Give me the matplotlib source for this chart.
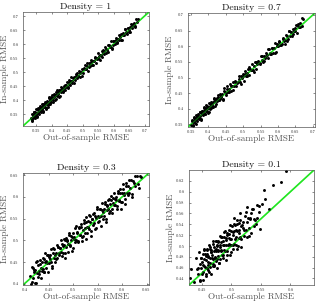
import numpy as np
import matplotlib
matplotlib.use("Agg")
import matplotlib.pyplot as plt
from matplotlib.ticker import FixedLocator, FixedFormatter

plt.rcParams['font.family'] = ['cmr10', 'DejaVu Serif']
plt.rcParams['mathtext.fontset'] = 'cm'
plt.rcParams['axes.formatter.use_mathtext'] = True

titles = ["Density = 1", "Density = 0.7", "Density = 0.3", "Density = 0.1"]
xlabel = "Out-of-sample RMSE"
ylabel = "In-sample RMSE"

# ---- Density = 1 ----
x1a = [0.332, 0.335, 0.337, 0.338, 0.340, 0.341, 0.343, 0.344, 0.346, 0.347, 0.348, 0.350, 0.351, 0.353, 0.354, 0.356, 0.357, 0.358, 0.360, 0.361,
       0.363, 0.364, 0.366, 0.367, 0.369, 0.370, 0.372, 0.373, 0.375, 0.377, 0.378, 0.380, 0.382, 0.383, 0.385, 0.387, 0.389, 0.390, 0.392, 0.394,
       0.396, 0.398, 0.400, 0.402, 0.404, 0.406, 0.408, 0.410, 0.412, 0.415, 0.417, 0.419, 0.422, 0.424, 0.426, 0.429, 0.431, 0.434, 0.436, 0.439,
       0.441, 0.444, 0.446, 0.449, 0.452, 0.454, 0.457, 0.460, 0.463, 0.466, 0.468, 0.471, 0.474, 0.477, 0.480, 0.483, 0.486, 0.489, 0.492, 0.495,
       0.498, 0.501, 0.504, 0.507, 0.510, 0.513, 0.516, 0.519, 0.522, 0.525, 0.528, 0.531, 0.534, 0.537, 0.540, 0.543, 0.546, 0.549, 0.552, 0.555,
       0.558, 0.561, 0.564, 0.567, 0.570, 0.573, 0.576, 0.579, 0.582, 0.585, 0.588, 0.591, 0.594, 0.597, 0.600, 0.603, 0.606, 0.609, 0.612, 0.615,
       0.618, 0.621, 0.624, 0.627, 0.630, 0.633, 0.636, 0.639, 0.642, 0.645, 0.648, 0.651, 0.654, 0.657, 0.660, 0.663, 0.666, 0.669, 0.672, 0.676,
       0.680]
y1a = [0.336, 0.326, 0.350, 0.339, 0.335, 0.357, 0.350, 0.342, 0.334, 0.357, 0.351, 0.368, 0.344, 0.353, 0.363, 0.352, 0.371, 0.364, 0.350, 0.363,
       0.374, 0.358, 0.371, 0.384, 0.368, 0.378, 0.358, 0.385, 0.378, 0.374, 0.393, 0.372, 0.388, 0.384, 0.395, 0.376, 0.393, 0.409, 0.387, 0.401,
       0.403, 0.393, 0.419, 0.406, 0.393, 0.416, 0.409, 0.416, 0.404, 0.430, 0.414, 0.422, 0.434, 0.410, 0.434, 0.428, 0.448, 0.439, 0.430, 0.450,
       0.443, 0.434, 0.452, 0.463, 0.448, 0.463, 0.457, 0.453, 0.481, 0.469, 0.478, 0.459, 0.472, 0.484, 0.496, 0.478, 0.487, 0.502, 0.483, 0.499,
       0.509, 0.495, 0.509, 0.524, 0.509, 0.521, 0.502, 0.531, 0.525, 0.522, 0.543, 0.523, 0.540, 0.538, 0.550, 0.532, 0.550, 0.568, 0.547, 0.562,
       0.562, 0.552, 0.577, 0.568, 0.565, 0.589, 0.583, 0.577, 0.570, 0.595, 0.591, 0.609, 0.587, 0.597, 0.609, 0.599, 0.620, 0.615, 0.602, 0.617,
       0.615, 0.624, 0.636, 0.613, 0.638, 0.632, 0.653, 0.644, 0.636, 0.656, 0.650, 0.641, 0.660, 0.671, 0.656, 0.672, 0.666, 0.662, 0.690, 0.679,
       0.690]
x1b = [0.336, 0.339, 0.342, 0.345, 0.349, 0.352, 0.355, 0.359, 0.362, 0.365, 0.368, 0.371, 0.374, 0.376, 0.379, 0.381, 0.384, 0.386, 0.388, 0.391,
       0.393, 0.395, 0.397, 0.401, 0.403, 0.407, 0.409, 0.413, 0.416, 0.418, 0.421, 0.425, 0.428, 0.433, 0.437, 0.442, 0.447, 0.451, 0.456, 0.461,
       0.465, 0.472, 0.479, 0.485, 0.491, 0.497, 0.503, 0.509, 0.515, 0.521, 0.527, 0.533, 0.539, 0.545, 0.551, 0.557, 0.563, 0.569, 0.575, 0.581,
       0.587, 0.593, 0.599, 0.605, 0.611, 0.617, 0.623, 0.629, 0.635, 0.641, 0.647, 0.653, 0.659, 0.664, 0.670]
y1b = [0.330, 0.348, 0.357, 0.344, 0.354, 0.339, 0.366, 0.361, 0.379, 0.361, 0.376, 0.362, 0.387, 0.376, 0.385, 0.366, 0.394, 0.390, 0.381, 0.407,
       0.394, 0.384, 0.409, 0.408, 0.400, 0.421, 0.401, 0.416, 0.434, 0.416, 0.430, 0.413, 0.433, 0.444, 0.432, 0.455, 0.447, 0.442, 0.471, 0.467,
       0.459, 0.481, 0.494, 0.484, 0.496, 0.484, 0.514, 0.511, 0.532, 0.517, 0.535, 0.524, 0.552, 0.545, 0.557, 0.542, 0.573, 0.573, 0.568, 0.597,
       0.588, 0.582, 0.611, 0.612, 0.608, 0.631, 0.615, 0.632, 0.653, 0.639, 0.656, 0.641, 0.664, 0.675, 0.665]

# ---- Density = 0.7 ----
x2a = [0.352, 0.354, 0.356, 0.357, 0.359, 0.361, 0.362, 0.364, 0.366, 0.367, 0.369, 0.371, 0.372, 0.374, 0.376, 0.378, 0.379, 0.381, 0.383, 0.385,
       0.387, 0.389, 0.391, 0.393, 0.395, 0.397, 0.399, 0.401, 0.403, 0.405, 0.408, 0.410, 0.412, 0.415, 0.417, 0.420, 0.422, 0.425, 0.427, 0.430,
       0.432, 0.435, 0.438, 0.440, 0.443, 0.446, 0.449, 0.451, 0.454, 0.457, 0.460, 0.463, 0.466, 0.469, 0.472, 0.475, 0.478, 0.481, 0.484, 0.487,
       0.490, 0.493, 0.496, 0.499, 0.502, 0.505, 0.508, 0.511, 0.514, 0.517, 0.520, 0.523, 0.526, 0.529, 0.532, 0.535, 0.538, 0.541, 0.544, 0.547,
       0.550, 0.553, 0.556, 0.559, 0.562, 0.565, 0.568, 0.571, 0.574, 0.577, 0.580, 0.583, 0.586, 0.589, 0.592, 0.595, 0.598, 0.601, 0.604, 0.607,
       0.610, 0.613, 0.616, 0.619, 0.622, 0.625, 0.628, 0.631, 0.634, 0.637, 0.640, 0.643, 0.646, 0.649, 0.652, 0.655, 0.658, 0.661, 0.664, 0.668,
       0.668, 0.672]
y2a = [0.349, 0.364, 0.358, 0.346, 0.373, 0.367, 0.356, 0.381, 0.366, 0.375, 0.360, 0.383, 0.376, 0.372, 0.391, 0.365, 0.386, 0.382, 0.394, 0.380,
       0.405, 0.392, 0.383, 0.402, 0.394, 0.410, 0.404, 0.391, 0.419, 0.407, 0.404, 0.420, 0.405, 0.421, 0.436, 0.408, 0.430, 0.425, 0.439, 0.427,
       0.429, 0.447, 0.438, 0.448, 0.431, 0.465, 0.455, 0.444, 0.464, 0.453, 0.462, 0.479, 0.456, 0.474, 0.485, 0.474, 0.487, 0.473, 0.487, 0.505,
       0.485, 0.504, 0.497, 0.506, 0.489, 0.520, 0.506, 0.515, 0.526, 0.508, 0.528, 0.523, 0.543, 0.523, 0.538, 0.549, 0.527, 0.543, 0.554, 0.544,
       0.568, 0.556, 0.548, 0.568, 0.561, 0.578, 0.573, 0.561, 0.590, 0.579, 0.576, 0.593, 0.579, 0.595, 0.611, 0.583, 0.606, 0.601, 0.616, 0.604,
       0.607, 0.623, 0.618, 0.608, 0.636, 0.631, 0.622, 0.648, 0.634, 0.645, 0.631, 0.655, 0.650, 0.647, 0.667, 0.642, 0.665, 0.662, 0.675, 0.663,
       0.689, 0.686]
x2b = [0.353, 0.356, 0.358, 0.360, 0.363, 0.365, 0.368, 0.370, 0.373, 0.375, 0.377, 0.380, 0.382, 0.384, 0.386, 0.388, 0.390, 0.392, 0.394, 0.396,
       0.398, 0.400, 0.402, 0.404, 0.406, 0.409, 0.411, 0.414, 0.416, 0.419, 0.423, 0.426, 0.429, 0.433, 0.437, 0.441, 0.445, 0.450, 0.455, 0.459,
       0.464, 0.470, 0.476, 0.482, 0.488, 0.494, 0.500, 0.506, 0.512, 0.518, 0.524, 0.530, 0.536, 0.542, 0.548, 0.554, 0.560, 0.566, 0.572, 0.578,
       0.584, 0.590, 0.596, 0.602, 0.608, 0.614, 0.620, 0.626, 0.632, 0.638, 0.644, 0.650, 0.656, 0.662]
y2b = [0.361, 0.347, 0.371, 0.360, 0.369, 0.350, 0.378, 0.374, 0.366, 0.391, 0.378, 0.369, 0.394, 0.391, 0.383, 0.402, 0.382, 0.395, 0.412, 0.394,
       0.407, 0.388, 0.407, 0.415, 0.401, 0.422, 0.411, 0.405, 0.431, 0.425, 0.417, 0.435, 0.444, 0.432, 0.442, 0.428, 0.456, 0.452, 0.472, 0.455,
       0.472, 0.461, 0.489, 0.482, 0.494, 0.479, 0.510, 0.510, 0.505, 0.534, 0.525, 0.519, 0.548, 0.549, 0.545, 0.568, 0.552, 0.569, 0.590, 0.576,
       0.593, 0.578, 0.601, 0.613, 0.603, 0.627, 0.620, 0.617, 0.647, 0.644, 0.638, 0.659, 0.671, 0.661]

# ---- Density = 0.3 ----
x3a = [0.412, 0.414, 0.416, 0.417, 0.419, 0.421, 0.422, 0.424, 0.425, 0.427, 0.428, 0.430, 0.431, 0.433, 0.434, 0.436, 0.437, 0.439, 0.440, 0.442,
       0.443, 0.445, 0.446, 0.448, 0.449, 0.451, 0.452, 0.454, 0.455, 0.457, 0.458, 0.460, 0.461, 0.463, 0.464, 0.466, 0.467, 0.469, 0.470, 0.472,
       0.473, 0.475, 0.476, 0.478, 0.480, 0.481, 0.483, 0.485, 0.486, 0.488, 0.490, 0.491, 0.493, 0.495, 0.497, 0.498, 0.500, 0.502, 0.504, 0.506,
       0.508, 0.510, 0.512, 0.514, 0.516, 0.518, 0.520, 0.522, 0.524, 0.526, 0.528, 0.530, 0.532, 0.534, 0.536, 0.538, 0.540, 0.542, 0.544, 0.546,
       0.548, 0.550, 0.552, 0.554, 0.556, 0.558, 0.560, 0.562, 0.564, 0.566, 0.568, 0.570, 0.572, 0.574, 0.576, 0.578, 0.580, 0.582, 0.584, 0.586,
       0.588, 0.590, 0.592, 0.594, 0.596, 0.598, 0.600, 0.602, 0.604, 0.606, 0.608, 0.611, 0.614, 0.617, 0.620, 0.623, 0.626, 0.630, 0.634, 0.638]
y3a = [0.417, 0.400, 0.438, 0.413, 0.431, 0.402, 0.431, 0.451, 0.425, 0.416, 0.444, 0.423, 0.455, 0.436, 0.414, 0.450, 0.435, 0.458, 0.426, 0.450,
       0.471, 0.436, 0.448, 0.465, 0.427, 0.462, 0.458, 0.449, 0.480, 0.441, 0.471, 0.459, 0.481, 0.451, 0.471, 0.489, 0.459, 0.484, 0.467, 0.482,
       0.483, 0.472, 0.491, 0.470, 0.503, 0.488, 0.471, 0.505, 0.485, 0.501, 0.474, 0.516, 0.488, 0.501, 0.508, 0.476, 0.517, 0.504, 0.495, 0.534,
       0.516, 0.496, 0.531, 0.512, 0.530, 0.498, 0.523, 0.546, 0.517, 0.542, 0.517, 0.530, 0.559, 0.543, 0.511, 0.550, 0.536, 0.564, 0.526, 0.551,
       0.576, 0.541, 0.554, 0.571, 0.534, 0.569, 0.566, 0.557, 0.589, 0.550, 0.581, 0.569, 0.592, 0.562, 0.583, 0.601, 0.572, 0.597, 0.581, 0.596,
       0.593, 0.572, 0.614, 0.590, 0.608, 0.573, 0.609, 0.629, 0.604, 0.595, 0.624, 0.604, 0.638, 0.620, 0.600, 0.637, 0.624, 0.649, 0.620, 0.646]
x3b = [0.415, 0.418, 0.420, 0.423, 0.426, 0.429, 0.432, 0.435, 0.438, 0.441, 0.444, 0.447, 0.450, 0.453, 0.456, 0.459, 0.462, 0.465, 0.468, 0.471,
       0.474, 0.477, 0.479, 0.482, 0.484, 0.487, 0.489, 0.492, 0.494, 0.496, 0.499, 0.501, 0.503, 0.505, 0.507, 0.509, 0.511, 0.513, 0.515, 0.517,
       0.519, 0.521, 0.523, 0.525, 0.527, 0.529, 0.531, 0.533, 0.535, 0.537, 0.539, 0.541, 0.543, 0.545, 0.547, 0.549, 0.551, 0.553, 0.555, 0.557,
       0.559, 0.561, 0.563, 0.565, 0.567, 0.569, 0.571, 0.573, 0.575, 0.577, 0.579, 0.581, 0.583, 0.585, 0.587, 0.589, 0.591, 0.593, 0.595, 0.597,
       0.599, 0.601, 0.603, 0.605, 0.607, 0.609, 0.612, 0.615, 0.618, 0.621, 0.624, 0.627, 0.632, 0.636]
y3b = [0.405, 0.436, 0.426, 0.402, 0.452, 0.430, 0.446, 0.429, 0.460, 0.426, 0.453, 0.467, 0.447, 0.465, 0.437, 0.483, 0.466, 0.457, 0.484, 0.470,
       0.501, 0.464, 0.487, 0.501, 0.460, 0.498, 0.491, 0.513, 0.487, 0.511, 0.482, 0.507, 0.528, 0.501, 0.520, 0.498, 0.529, 0.513, 0.538, 0.508,
       0.509, 0.539, 0.529, 0.504, 0.553, 0.530, 0.545, 0.527, 0.557, 0.522, 0.548, 0.561, 0.540, 0.557, 0.528, 0.573, 0.555, 0.545, 0.571, 0.556,
       0.586, 0.548, 0.571, 0.584, 0.543, 0.580, 0.573, 0.594, 0.568, 0.592, 0.562, 0.587, 0.608, 0.581, 0.600, 0.578, 0.609, 0.593, 0.618, 0.588,
       0.589, 0.619, 0.609, 0.584, 0.633, 0.610, 0.626, 0.609, 0.640, 0.606, 0.633, 0.647, 0.629, 0.648]

# ---- Density = 0.1 ----
x4a = [0.429, 0.432, 0.437, 0.440, 0.442, 0.444, 0.445, 0.446, 0.447, 0.448, 0.449, 0.450, 0.451, 0.452, 0.452, 0.453, 0.454, 0.455, 0.455, 0.456,
       0.457, 0.458, 0.458, 0.459, 0.460, 0.460, 0.461, 0.462, 0.462, 0.463, 0.464, 0.464, 0.465, 0.466, 0.466, 0.467, 0.468, 0.468, 0.469, 0.470,
       0.470, 0.471, 0.472, 0.472, 0.473, 0.474, 0.474, 0.475, 0.476, 0.476, 0.477, 0.478, 0.478, 0.479, 0.480, 0.481, 0.481, 0.482, 0.483, 0.484,
       0.485, 0.485, 0.486, 0.487, 0.488, 0.489, 0.490, 0.490, 0.491, 0.492, 0.493, 0.494, 0.495, 0.496, 0.497, 0.498, 0.499, 0.500, 0.501, 0.502,
       0.503, 0.504, 0.505, 0.506, 0.507, 0.508, 0.509, 0.510, 0.511, 0.512, 0.513, 0.514, 0.516, 0.517, 0.519, 0.520, 0.522, 0.523, 0.525, 0.527,
       0.529, 0.531, 0.533, 0.535, 0.538, 0.541, 0.544, 0.548,
       0.593, 0.584, 0.571, 0.556, 0.557, 0.552, 0.564, 0.526, 0.546, 0.533, 0.540, 0.515, 0.505]
y4a = [0.441, 0.458, 0.433, 0.478, 0.458, 0.448, 0.488, 0.435, 0.467, 0.477, 0.459, 0.449, 0.485, 0.465, 0.438, 0.476, 0.494, 0.462, 0.486, 0.449,
       0.475, 0.485, 0.460, 0.495, 0.471, 0.456, 0.482, 0.502, 0.452, 0.477, 0.495, 0.468, 0.488, 0.449, 0.493, 0.483, 0.467, 0.504, 0.476, 0.490,
       0.463, 0.464, 0.492, 0.479, 0.509, 0.473, 0.490, 0.502, 0.459, 0.499, 0.481, 0.509, 0.492, 0.469, 0.519, 0.501, 0.476, 0.492, 0.517, 0.484,
       0.510, 0.501, 0.477, 0.516, 0.493, 0.527, 0.511, 0.474, 0.502, 0.524, 0.490, 0.502, 0.522, 0.514, 0.484, 0.539, 0.501, 0.513, 0.536, 0.494,
       0.525, 0.528, 0.504, 0.539, 0.516, 0.502, 0.528, 0.548, 0.499, 0.524, 0.542, 0.516, 0.537, 0.498, 0.544, 0.534, 0.518, 0.556, 0.529, 0.544,
       0.519, 0.552, 0.524, 0.569, 0.550, 0.540, 0.575, 0.532,
       0.639, 0.617, 0.612, 0.603, 0.587, 0.578, 0.569, 0.572, 0.563, 0.560, 0.548, 0.560, 0.552]
x4b = [0.443, 0.446, 0.448, 0.450, 0.451, 0.453, 0.454, 0.456, 0.457, 0.459, 0.460, 0.461, 0.463, 0.464, 0.465, 0.467, 0.468, 0.469, 0.471, 0.472,
       0.473, 0.474, 0.475, 0.477, 0.478, 0.479, 0.480, 0.482, 0.483, 0.484, 0.486, 0.487, 0.488, 0.489, 0.491, 0.492, 0.493, 0.495, 0.496, 0.497,
       0.498, 0.499, 0.500, 0.502, 0.503, 0.504, 0.506, 0.507, 0.509, 0.510, 0.512, 0.513, 0.515, 0.517, 0.518, 0.521, 0.524, 0.526, 0.528, 0.530,
       0.532, 0.536, 0.539, 0.543, 0.547]
y4b = [0.459, 0.438, 0.478, 0.471, 0.452, 0.492, 0.463, 0.482, 0.445, 0.492, 0.464, 0.479, 0.498, 0.461, 0.488, 0.478, 0.509, 0.463, 0.498, 0.478,
       0.494, 0.510, 0.476, 0.490, 0.508, 0.468, 0.498, 0.507, 0.491, 0.516, 0.483, 0.502, 0.526, 0.491, 0.514, 0.484, 0.520, 0.504, 0.529, 0.501,
       0.512, 0.489, 0.527, 0.520, 0.501, 0.540, 0.512, 0.530, 0.494, 0.540, 0.514, 0.529, 0.548, 0.512, 0.539, 0.529, 0.562, 0.517, 0.552, 0.533,
       0.550, 0.569, 0.537, 0.552, 0.573]

xs = [x1a + x1b, x2a + x2b, x3a + x3b, x4a + x4b]
ys = [y1a + y1b, y2a + y2b, y3a + y3b, y4a + y4b]
lims = [(0.307, 0.714), (0.342, 0.706), (0.397, 0.655), (0.428, 0.640)]

xticks = [
    [0.35, 0.4, 0.45, 0.5, 0.55, 0.6, 0.65, 0.7],
    [0.35, 0.4, 0.45, 0.5, 0.55, 0.6, 0.65, 0.7],
    [0.4, 0.45, 0.5, 0.55, 0.6, 0.65],
    [0.45, 0.5, 0.55, 0.6],
]
yticks = [
    [0.35, 0.4, 0.45, 0.5, 0.55, 0.6, 0.65, 0.7],
    [0.35, 0.4, 0.45, 0.5, 0.55, 0.6, 0.65, 0.7],
    [0.4, 0.45, 0.5, 0.55, 0.6, 0.65],
    [0.44, 0.46, 0.48, 0.5, 0.52, 0.54, 0.56, 0.58, 0.6, 0.62],
]

def fmt(v):
    return ("%.2f" % v).rstrip('0').rstrip('.')

# axes rectangles in pixels: left, top, right, bottom
W, H = 317, 303
rects_px = [(23, 12, 149, 126), (188, 13, 315, 127), (23, 173, 149, 285), (189, 170, 314, 285)]

fig = plt.figure(figsize=(W / 100, H / 100), dpi=100)
green = '#22e622'
for i in range(4):
    l, t, r, b = rects_px[i]
    ax = fig.add_axes([l / W, 1 - b / H, (r - l) / W, (b - t) / H])
    lo, hi = lims[i]
    ax.plot([lo, hi], [lo, hi], color=green, lw=1.2, zorder=1)
    ax.scatter(xs[i], ys[i], s=4.5, c='black', marker='o', linewidths=0, zorder=2)
    ax.plot([lo, hi], [lo, hi], color=green, lw=0.8, alpha=0.45, zorder=3)
    ax.set_xlim(lo, hi)
    ax.set_ylim(lo, hi)
    ax.xaxis.set_major_locator(FixedLocator(xticks[i]))
    ax.xaxis.set_major_formatter(FixedFormatter([fmt(v) for v in xticks[i]]))
    ax.yaxis.set_major_locator(FixedLocator(yticks[i]))
    ax.yaxis.set_major_formatter(FixedFormatter([fmt(v) for v in yticks[i]]))
    ax.tick_params(direction='in', length=1.5, width=0.4, labelsize=3.4,
                   colors='#333333', top=True, right=True)
    ax.tick_params(axis='x', pad=1.8)
    ax.tick_params(axis='y', pad=3.2)
    for sp in ax.spines.values():
        sp.set_linewidth(0.5)
        sp.set_color('#555555')
    ax.set_title(titles[i], fontsize=7, pad=2.5, color='#111111')
    ax.set_xlabel(xlabel, fontsize=6.6, color='#555555')
    ax.set_ylabel(ylabel, fontsize=6.6, color='#555555')
    ax.xaxis.set_label_coords(0.5, -0.07)
    ax.yaxis.set_label_coords(-0.11, 0.5)

fig.savefig('out.png', dpi=100)
